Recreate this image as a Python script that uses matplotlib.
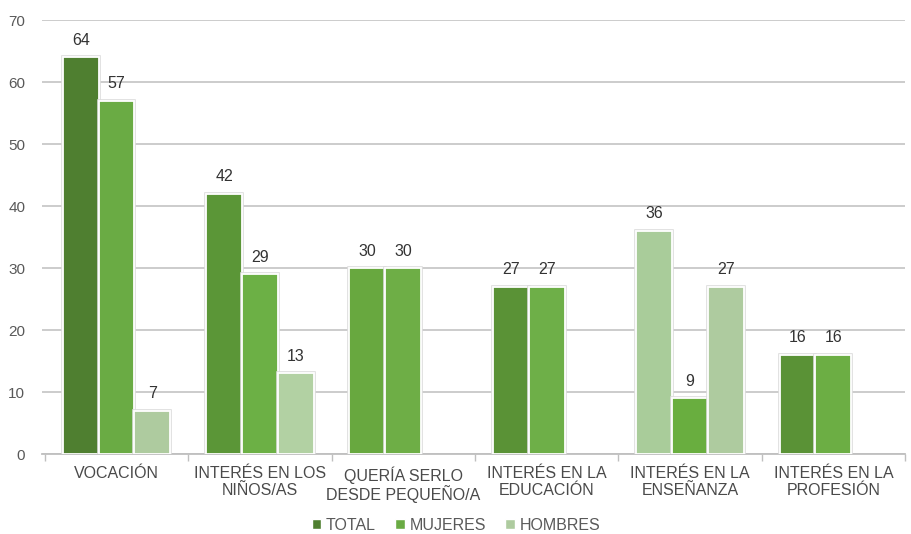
import numpy as np
import matplotlib
matplotlib.use("Agg")
import matplotlib.pyplot as plt
from matplotlib.patches import Patch

categories = ["VOCACIÓN", "INTERÉS EN LOS\nNIÑOS/AS", "QUERÍA SERLO\nDESDE PEQUEÑO/A",
              "INTERÉS EN LA\nEDUCACIÓN", "INTERÉS EN LA\nENSEÑANZA", "INTERÉS EN LA\nPROFESIÓN"]
series_names = ["TOTAL", "MUJERES", "HOMBRES"]
total = [64, 42, 30, 27, 36, 16]
mujeres = [57, 29, 30, 27, 9, 16]
hombres = [7, 13, np.nan, np.nan, 27, np.nan]

# per-bar fill colours as seen in the picture
total_colors = ["#4f7f30", "#5b9637", "#68a83f", "#5a9236", "#a9cc9a", "#5a9236"]
mujeres_colors = ["#6aab44", "#6cb045", "#6eae46", "#6eaf48", "#69ae3f", "#6cae44"]
hombres_colors = ["#aecb9f", "#b2d1a3", "#aecb9f", "#aecb9f", "#aecb9f", "#aecb9f"]
legend_colors = ["#4f7f30", "#6aab44", "#aecb9f"]

plt.rcParams['font.family'] = ['Liberation Sans Narrow', 'Liberation Sans', 'DejaVu Sans']

fig = plt.figure(figsize=(9.12, 5.34), dpi=100)
ax = fig.add_axes([42/912, 1-454/534, (905-42)/912, (454-20)/534])

x = np.arange(len(categories))
w = 0.25
for i, (vals, cols) in enumerate([(total, total_colors), (mujeres, mujeres_colors), (hombres, hombres_colors)]):
    for xi, v, c in zip(x, vals, cols):
        if np.isnan(v):
            continue
        ax.bar(xi + (i - 1) * w, v, w, color=c, edgecolor="#dcdcdc", linewidth=2.6, zorder=3)
        ax.bar(xi + (i - 1) * w, v, w, color=c, edgecolor="white", linewidth=1.3, zorder=3)
        ax.text(xi + (i - 1) * w, v + 1.5, f"{int(v)}", ha="center", va="bottom",
                fontsize=11.5, color="#333333", zorder=4)

ax.set_xlim(-0.52, len(categories) - 0.5)
ax.set_ylim(0, 70)
ax.set_yticks(np.arange(0, 71, 10))
ax.yaxis.grid(True, color="#c8c8c8", linewidth=1.3, zorder=0)
ax.set_axisbelow(True)
for s in ["top", "right", "left"]:
    ax.spines[s].set_visible(False)
ax.spines["bottom"].set_color("#bfbfbf")
ax.spines["bottom"].set_linewidth(1.3)
ax.tick_params(axis="y", length=0, labelsize=11, labelcolor="#595959", pad=12)
ax.set_xticks(x)
ax.set_xticklabels(categories, fontsize=11.5, color="#4a4a4a", linespacing=1.1)
ax.tick_params(axis="x", length=0, pad=9)
ax.set_xticks(np.arange(-0.5, len(categories), 1), minor=True)
ax.tick_params(axis="x", which="minor", length=5, color="#bfbfbf", width=1)

handles = [Patch(facecolor=c, edgecolor="white") for c in legend_colors]
fig.legend(handles, series_names, loc="center", bbox_to_anchor=(0.5, 1-525/534),
           ncol=3, frameon=False, fontsize=11.5, labelcolor="#595959",
           handlelength=0.6, handleheight=0.6, handletextpad=0.3, columnspacing=1.2)

fig.savefig("out.png", dpi=100)
